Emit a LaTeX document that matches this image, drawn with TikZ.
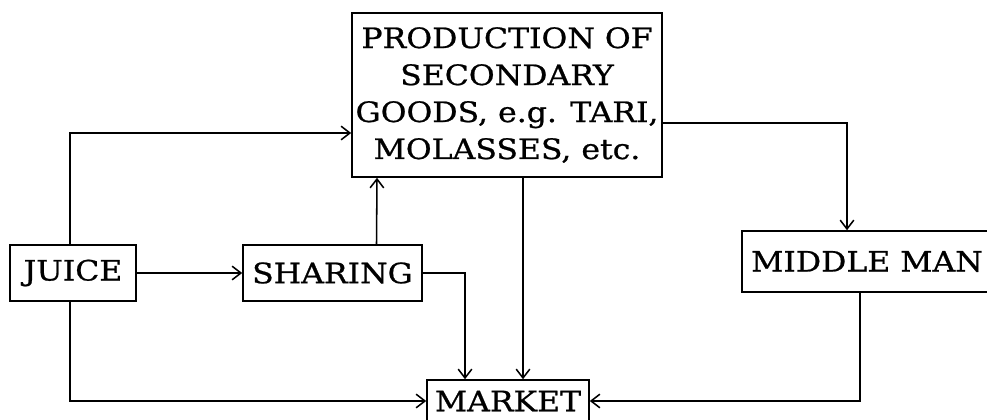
\documentclass[tikz,border=0pt]{standalone}
\usepackage{fontspec}
\setmainfont{DejaVu Serif}[FakeStretch=1.12,FakeBold=0.8]
\usetikzlibrary{arrows.meta,calc}

\begin{document}
\begin{tikzpicture}[x=0.025cm,y=-0.025cm,
    box/.style={draw,line width=1.1pt,align=center,inner sep=0pt,
      font=\fontsize{20}{26.3}\selectfont},
    arr/.style={-{Straight Barb[length=2.2mm,width=3.4mm]},line width=1.1pt}]
    \useasboundingbox (0,0) rectangle (987,420);
    \node[box,minimum width=7.75cm,minimum height=4.1cm] (prod) at (507,95)
      {PRODUCTION OF\\SECONDARY\\GOODS, e.g. TARI,\\MOLASSES, etc.};
    \node[box,minimum width=3.15cm,minimum height=1.4cm] (juice) at (73,273) {JUICE};
    \node[box,minimum width=4.475cm,minimum height=1.4cm] (sharing) at (332.5,273) {SHARING};
    \node[box,minimum width=4.05cm,minimum height=1.05cm] (market) at (508,401) {MARKET};
    \node[box,minimum width=6.25cm,minimum height=1.525cm] (middle) at (867,261.5) {MIDDLE MAN};
    % flows into production
    \draw[arr] ($(juice.north)+(-3,0)$) |- ($(prod.west)+(0,38)$);
    \draw[arr] ($(sharing.north)+(44,0)$) -- ($(prod.south)+(-130,0)$);
    \draw[arr] (juice.east) -- (sharing.west);
    % flows into market
    \draw[arr] ($(juice.south)+(-3,0)$) |- (market.west);
    \draw[arr] (sharing.east) -| ($(market.north)+(-43,0)$);
    \draw[arr] ($(prod.south)+(16,0)$) -- ($(market.north)+(15,0)$);
    \draw[arr] ($(prod.east)+(0,28)$) -| ($(middle.north)+(-20,0)$);
    \draw[arr] ($(middle.south)+(-7,0)$) |- (market.east);
  \end{tikzpicture}
\end{document}
